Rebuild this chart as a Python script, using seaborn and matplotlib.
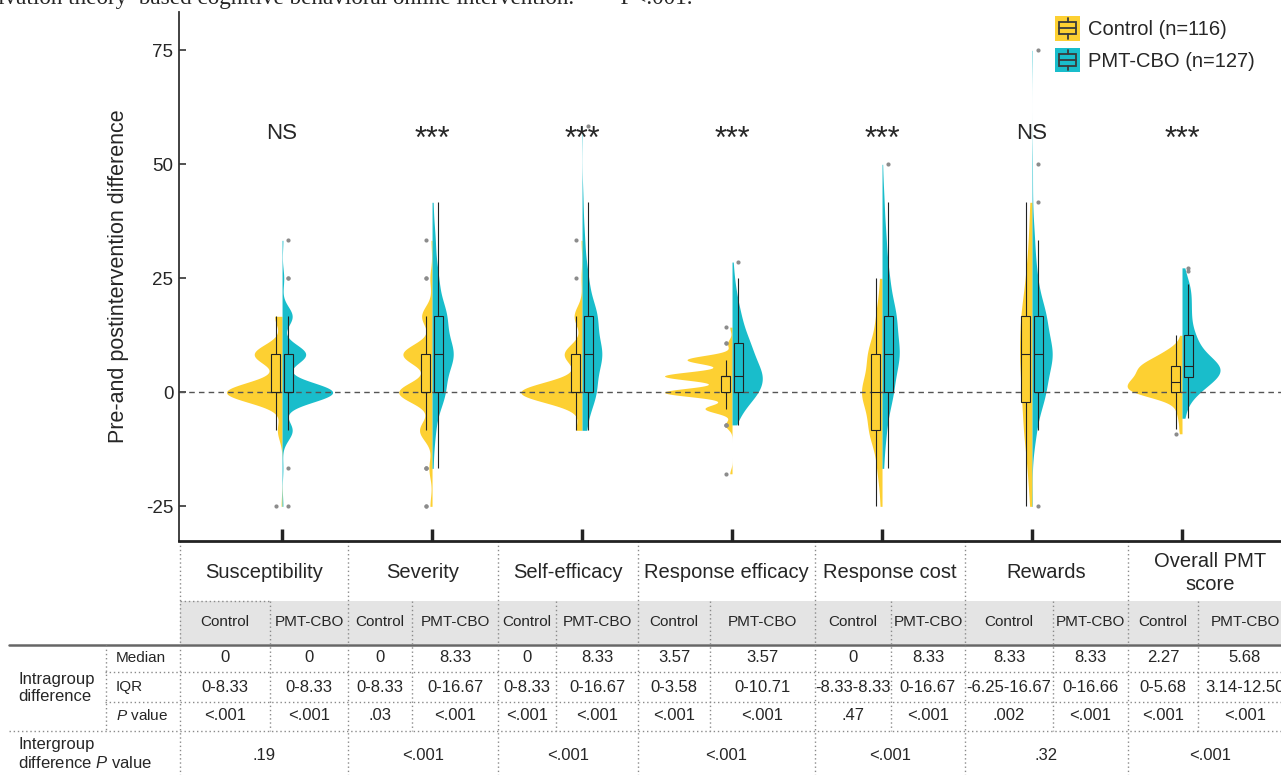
import numpy as np
import pandas as pd
import matplotlib
matplotlib.use("Agg")
import matplotlib.pyplot as plt
import seaborn as sns
from matplotlib.patches import Rectangle, Patch
from matplotlib.lines import Line2D
from matplotlib.legend_handler import HandlerBase

# change scores (distinct values) and how many participants had each one
susc_ctl = [-25, -8.33, 0, 8.33, 16.67]
susc_ctl_n = [1, 5, 60, 30, 8]
susc_pmt = [-25, -16.67, -8.33, 0, 8.33, 16.67, 25, 33.33]
susc_pmt_n = [1, 1, 12, 60, 28, 12, 2, 1]

sev_ctl = [-25, -16.67, -8.33, 0, 8.33, 16.67, 25, 33.33]
sev_ctl_n = [2, 3, 12, 32, 28, 10, 2, 1]
sev_pmt = [-16.67, -8.33, 0, 8.33, 16.67, 25, 33.33, 41.67]
sev_pmt_n = [2, 6, 25, 42, 28, 12, 6, 2]

self_ctl = [-8.33, 0, 8.33, 16.67, 25, 33.33]
self_ctl_n = [6, 62, 18, 8, 1, 1]
self_pmt = [-8.33, 0, 8.33, 16.67, 25, 33.33, 41.67, 58.33]
self_pmt_n = [8, 28, 40, 30, 12, 5, 2, 1]

reff_ctl = [-17.86, -7.14, -3.57, 0, 3.57, 7.14, 10.71, 14.29]
reff_ctl_n = [1, 3, 12, 30, 30, 20, 2, 1]
reff_pmt = [-7.14, -3.57, 0, 3.57, 7.14, 10.71, 14.29, 17.86, 21.43, 25, 28.57]
reff_pmt_n = [3, 10, 24, 28, 20, 16, 10, 7, 4, 2, 1]

rcost_ctl = [-25, -16.67, -8.33, 0, 8.33, 16.67, 25]
rcost_ctl_n = [3, 8, 22, 35, 24, 10, 4]
rcost_pmt = [-16.67, -8.33, 0, 8.33, 16.67, 25, 33.33, 41.67, 50]
rcost_pmt_n = [3, 8, 22, 35, 28, 14, 8, 4, 1]

rew_ctl = [-25, -16.67, -8.33, 0, 8.33, 16.67, 25, 33.33, 41.67]
rew_ctl_n = [4, 8, 15, 18, 22, 20, 11, 6, 4]
rew_pmt = [-25, -8.33, 0, 8.33, 16.66, 25, 33.33, 41.67, 50, 75]
rew_pmt_n = [1, 8, 27, 42, 28, 10, 5, 1, 1, 1]

pmt_ctl = [-9.09, -7.95, -5.68, -3.41, -1.14, 0, 1.14, 2.27, 3.41, 4.55, 5.68,
           6.82, 7.95, 9.09, 10.23, 12.5]
pmt_ctl_n = [1, 1, 2, 3, 6, 16, 12, 14, 10, 10, 12, 8, 6, 4, 2, 1]
pmt_pmt = [-5.68, -3.41, -1.14, 0, 1.14, 2.27, 3.41, 4.55, 5.68, 6.82, 7.95, 9.09,
           10.23, 11.36, 12.5, 14.77, 17.05, 19.32, 21.59, 23.86, 26.7, 27.3]
pmt_pmt_n = [2, 2, 3, 5, 6, 8, 10, 13, 16, 7, 7, 5, 4, 4, 6, 5, 5, 5, 5, 5, 1, 1]

dims = ['Susceptibility', 'Severity', 'Self-efficacy', 'Response efficacy',
        'Response cost', 'Rewards', 'Overall PMT score']
dim_labels = ['Susceptibility', 'Severity', 'Self-efficacy', 'Response efficacy',
              'Response cost', 'Rewards', 'Overall PMT\nscore']
sig = ['NS', '***', '***', '***', '***', 'NS', '***']

# table values
median_ctl = ['0', '0', '0', '3.57', '0', '8.33', '2.27']
median_pmt = ['0', '8.33', '8.33', '3.57', '8.33', '8.33', '5.68']
iqr_ctl = ['0-8.33', '0-8.33', '0-8.33', '0-3.58', '-8.33-8.33', '-6.25-16.67', '0-5.68']
iqr_pmt = ['0-8.33', '0-16.67', '0-16.67', '0-10.71', '0-16.67', '0-16.66', '3.14-12.50']
p_ctl = ['<.001', '.03', '<.001', '<.001', '.47', '.002', '<.001']
p_pmt = ['<.001', '<.001', '<.001', '<.001', '<.001', '<.001', '<.001']
p_between = ['.19', '<.001', '<.001', '<.001', '<.001', '.32', '<.001']

ctl_vals = [susc_ctl, sev_ctl, self_ctl, reff_ctl, rcost_ctl, rew_ctl, pmt_ctl]
ctl_counts = [susc_ctl_n, sev_ctl_n, self_ctl_n, reff_ctl_n, rcost_ctl_n, rew_ctl_n, pmt_ctl_n]
pmt_vals = [susc_pmt, sev_pmt, self_pmt, reff_pmt, rcost_pmt, rew_pmt, pmt_pmt]
pmt_counts = [susc_pmt_n, sev_pmt_n, self_pmt_n, reff_pmt_n, rcost_pmt_n, rew_pmt_n, pmt_pmt_n]

parts = []
for d, cv, cn, pv, pn in zip(dims, ctl_vals, ctl_counts, pmt_vals, pmt_counts):
    parts.append(pd.DataFrame({'dim': d, 'group': 'Control', 'diff': np.repeat(cv, cn)}))
    parts.append(pd.DataFrame({'dim': d, 'group': 'PMT-CBO', 'diff': np.repeat(pv, pn)}))
df = pd.concat(parts, ignore_index=True)

YELLOW = '#FDD032'
TEAL = '#19BDCB'

sns.set_theme(style='white')
plt.rcParams['font.family'] = ['Liberation Sans', 'DejaVu Sans']
plt.rcParams['mathtext.fontset'] = 'custom'
plt.rcParams['mathtext.rm'] = 'Liberation Sans'
plt.rcParams['mathtext.it'] = 'Liberation Sans:italic'
plt.rcParams['axes.unicode_minus'] = False


# R style nrd0 bandwidth, as a factor of the group sd
def nrd0(kde):
    x = kde.dataset.ravel()
    sd = x.std(ddof=1)
    q75, q25 = np.percentile(x, [75, 25])
    s = min(sd, (q75 - q25) / 1.34) if q75 > q25 else sd
    return 0.9 * s * len(x) ** -0.2 / sd


class BoxGlyph(HandlerBase):
    def create_artists(self, legend, orig_handle, xdescent, ydescent, width, height, fontsize, trans):
        x0, y0 = -xdescent, -ydescent
        ec = '#3a3a3a'
        bg = Rectangle((x0, y0), width, height, facecolor=orig_handle.get_facecolor(),
                       edgecolor='none', transform=trans)
        bx = Rectangle((x0 + 0.17 * width, y0 + 0.25 * height), 0.66 * width, 0.5 * height,
                       facecolor='none', edgecolor=ec, lw=1.3, transform=trans)
        med = Line2D([x0 + 0.17 * width, x0 + 0.83 * width], [y0 + 0.5 * height] * 2,
                     color=ec, lw=1.3, transform=trans)
        w1 = Line2D([x0 + 0.5 * width] * 2, [y0 + 0.08 * height, y0 + 0.25 * height],
                    color=ec, lw=1.3, transform=trans)
        w2 = Line2D([x0 + 0.5 * width] * 2, [y0 + 0.75 * height, y0 + 0.92 * height],
                    color=ec, lw=1.3, transform=trans)
        return [bg, bx, med, w1, w2]


W, H = 1281, 775
fig = plt.figure(figsize=(W / 100, H / 100), dpi=100)

# pixel-space layer for the table under the plot
tab = fig.add_axes([0, 0, 1, 1], zorder=0)
tab.set_xlim(0, W)
tab.set_ylim(H, 0)
tab.axis('off')

ax = fig.add_axes([179 / W, 1 - 541 / H, 1 - 179 / W, (541 - 12) / H], zorder=1)
ax.patch.set_alpha(0)

sns.violinplot(data=df, x='dim', y='diff', hue='group', order=dims,
               hue_order=['Control', 'PMT-CBO'], split=True, inner=None, cut=0,
               gridsize=400, bw_method=nrd0, density_norm='area', common_norm=True,
               width=0.9, linewidth=0, palette=[YELLOW, TEAL], saturation=1,
               legend=False, ax=ax)
ax.axhline(0, color='#555555', lw=1, ls=(0, (4, 3)), zorder=1.5)
sns.boxplot(data=df, x='dim', y='diff', hue='group', order=dims,
            hue_order=['Control', 'PMT-CBO'], width=0.17, gap=0.33, dodge=True,
            palette=[YELLOW, TEAL], saturation=1, linewidth=0.8, linecolor='#222222',
            showcaps=False, fliersize=3,
            flierprops=dict(marker='o', markerfacecolor='#8c8c8c', markeredgecolor='none'),
            legend=False, ax=ax)

for i, s in enumerate(sig):
    if s == 'NS':
        ax.text(i, 55.6, s, ha='center', va='baseline', fontsize=16)
    else:
        ax.text(i, 53.5, s, ha='center', va='baseline', fontsize=22)

ax.set_xlim(-0.687, 6.66)
ax.set_ylim(-32.6, 83.4)
ax.set_yticks([-25, 0, 25, 50, 75])
ax.set_xlabel('')
ax.set_ylabel('Pre-and postintervention difference', fontsize=15.5, labelpad=12)
ax.tick_params(axis='y', direction='in', length=5, width=1.2, color='#333333',
               labelsize=13.5, pad=4, left=True)
ax.tick_params(axis='x', direction='in', length=9, width=2.5, color='#222222',
               labelbottom=False, bottom=True)
for side in ['top', 'right']:
    ax.spines[side].set_visible(False)
ax.spines['left'].set_color('#333333')
ax.spines['left'].set_linewidth(1.3)
ax.spines['bottom'].set_color('#222222')
ax.spines['bottom'].set_linewidth(2)

ax.legend(handles=[Patch(facecolor=YELLOW), Patch(facecolor=TEAL)],
          labels=['Control (n=116)', 'PMT-CBO (n=127)'],
          handler_map={Patch: BoxGlyph()}, frameon=False, fontsize=14.5,
          handlelength=1.25, handleheight=1.5, handletextpad=0.4, labelspacing=0.35,
          borderpad=0, borderaxespad=0, loc='upper left',
          bbox_to_anchor=(1055 / W, 1 - 16 / H), bbox_transform=fig.transFigure)

# caption fragment cut at the top edge
tab.text(-2, 4, 'ivation theory\u2013based cognitive behavioral online intervention.  ***P<.001.',
         fontsize=16.7, family='Liberation Serif', va='baseline', ha='left', clip_on=False)

# ---- table ----
cat_edges = [180, 348, 498, 638, 815, 965, 1128, 1292]
sub_edges = [270, 412, 556, 710, 891, 1053, 1198]
dot = dict(color='#8a8a8a', lw=1, ls=(0, (1, 2)))

tab.add_patch(Rectangle((180, 601), W - 180, 43, facecolor='#e4e4e4', edgecolor='none'))
tab.plot([180, 270], [601, 601], **dot)
tab.plot([9, W], [645, 645], color='#666666', lw=1.8)
tab.plot([105, W], [672, 672], **dot)
tab.plot([105, W], [702, 702], **dot)
tab.plot([9, W], [731, 731], **dot)
tab.plot([106, 106], [645, 731], **dot)
for x in cat_edges[:-1]:
    tab.plot([x, x], [541, H], **dot)
for x in sub_edges:
    tab.plot([x, x], [601, 731], **dot)

for i in range(7):
    left, right, mid = cat_edges[i], cat_edges[i + 1], sub_edges[i]
    cx = (left + right) / 2
    c1 = (left + mid) / 2
    c2 = (mid + right) / 2
    tab.text(cx, 573, dim_labels[i], ha='center', va='center', fontsize=14.5, linespacing=1.25)
    tab.text(c1, 622, 'Control', ha='center', va='center', fontsize=11)
    tab.text(c2, 622, 'PMT-CBO', ha='center', va='center', fontsize=11)
    tab.text(c1, 658, median_ctl[i], ha='center', va='center', fontsize=12)
    tab.text(c2, 658, median_pmt[i], ha='center', va='center', fontsize=12)
    tab.text(c1, 687, iqr_ctl[i], ha='center', va='center', fontsize=12)
    tab.text(c2, 687, iqr_pmt[i], ha='center', va='center', fontsize=12)
    tab.text(c1, 716, p_ctl[i], ha='center', va='center', fontsize=12)
    tab.text(c2, 716, p_pmt[i], ha='center', va='center', fontsize=12)
    tab.text(cx, 755, p_between[i], ha='center', va='center', fontsize=12)

tab.text(116, 658, 'Median', ha='left', va='center', fontsize=11)
tab.text(116, 687, 'IQR', ha='left', va='center', fontsize=11)
tab.text(116, 716, '$P$ value', ha='left', va='center', fontsize=11)
tab.text(18, 688, 'Intragroup\ndifference', ha='left', va='center', fontsize=12, linespacing=1.1)
tab.text(18, 754, 'Intergroup\ndifference $P$ value', ha='left', va='center', fontsize=12,
         linespacing=1.25)

fig.savefig('out.png', dpi=100)
